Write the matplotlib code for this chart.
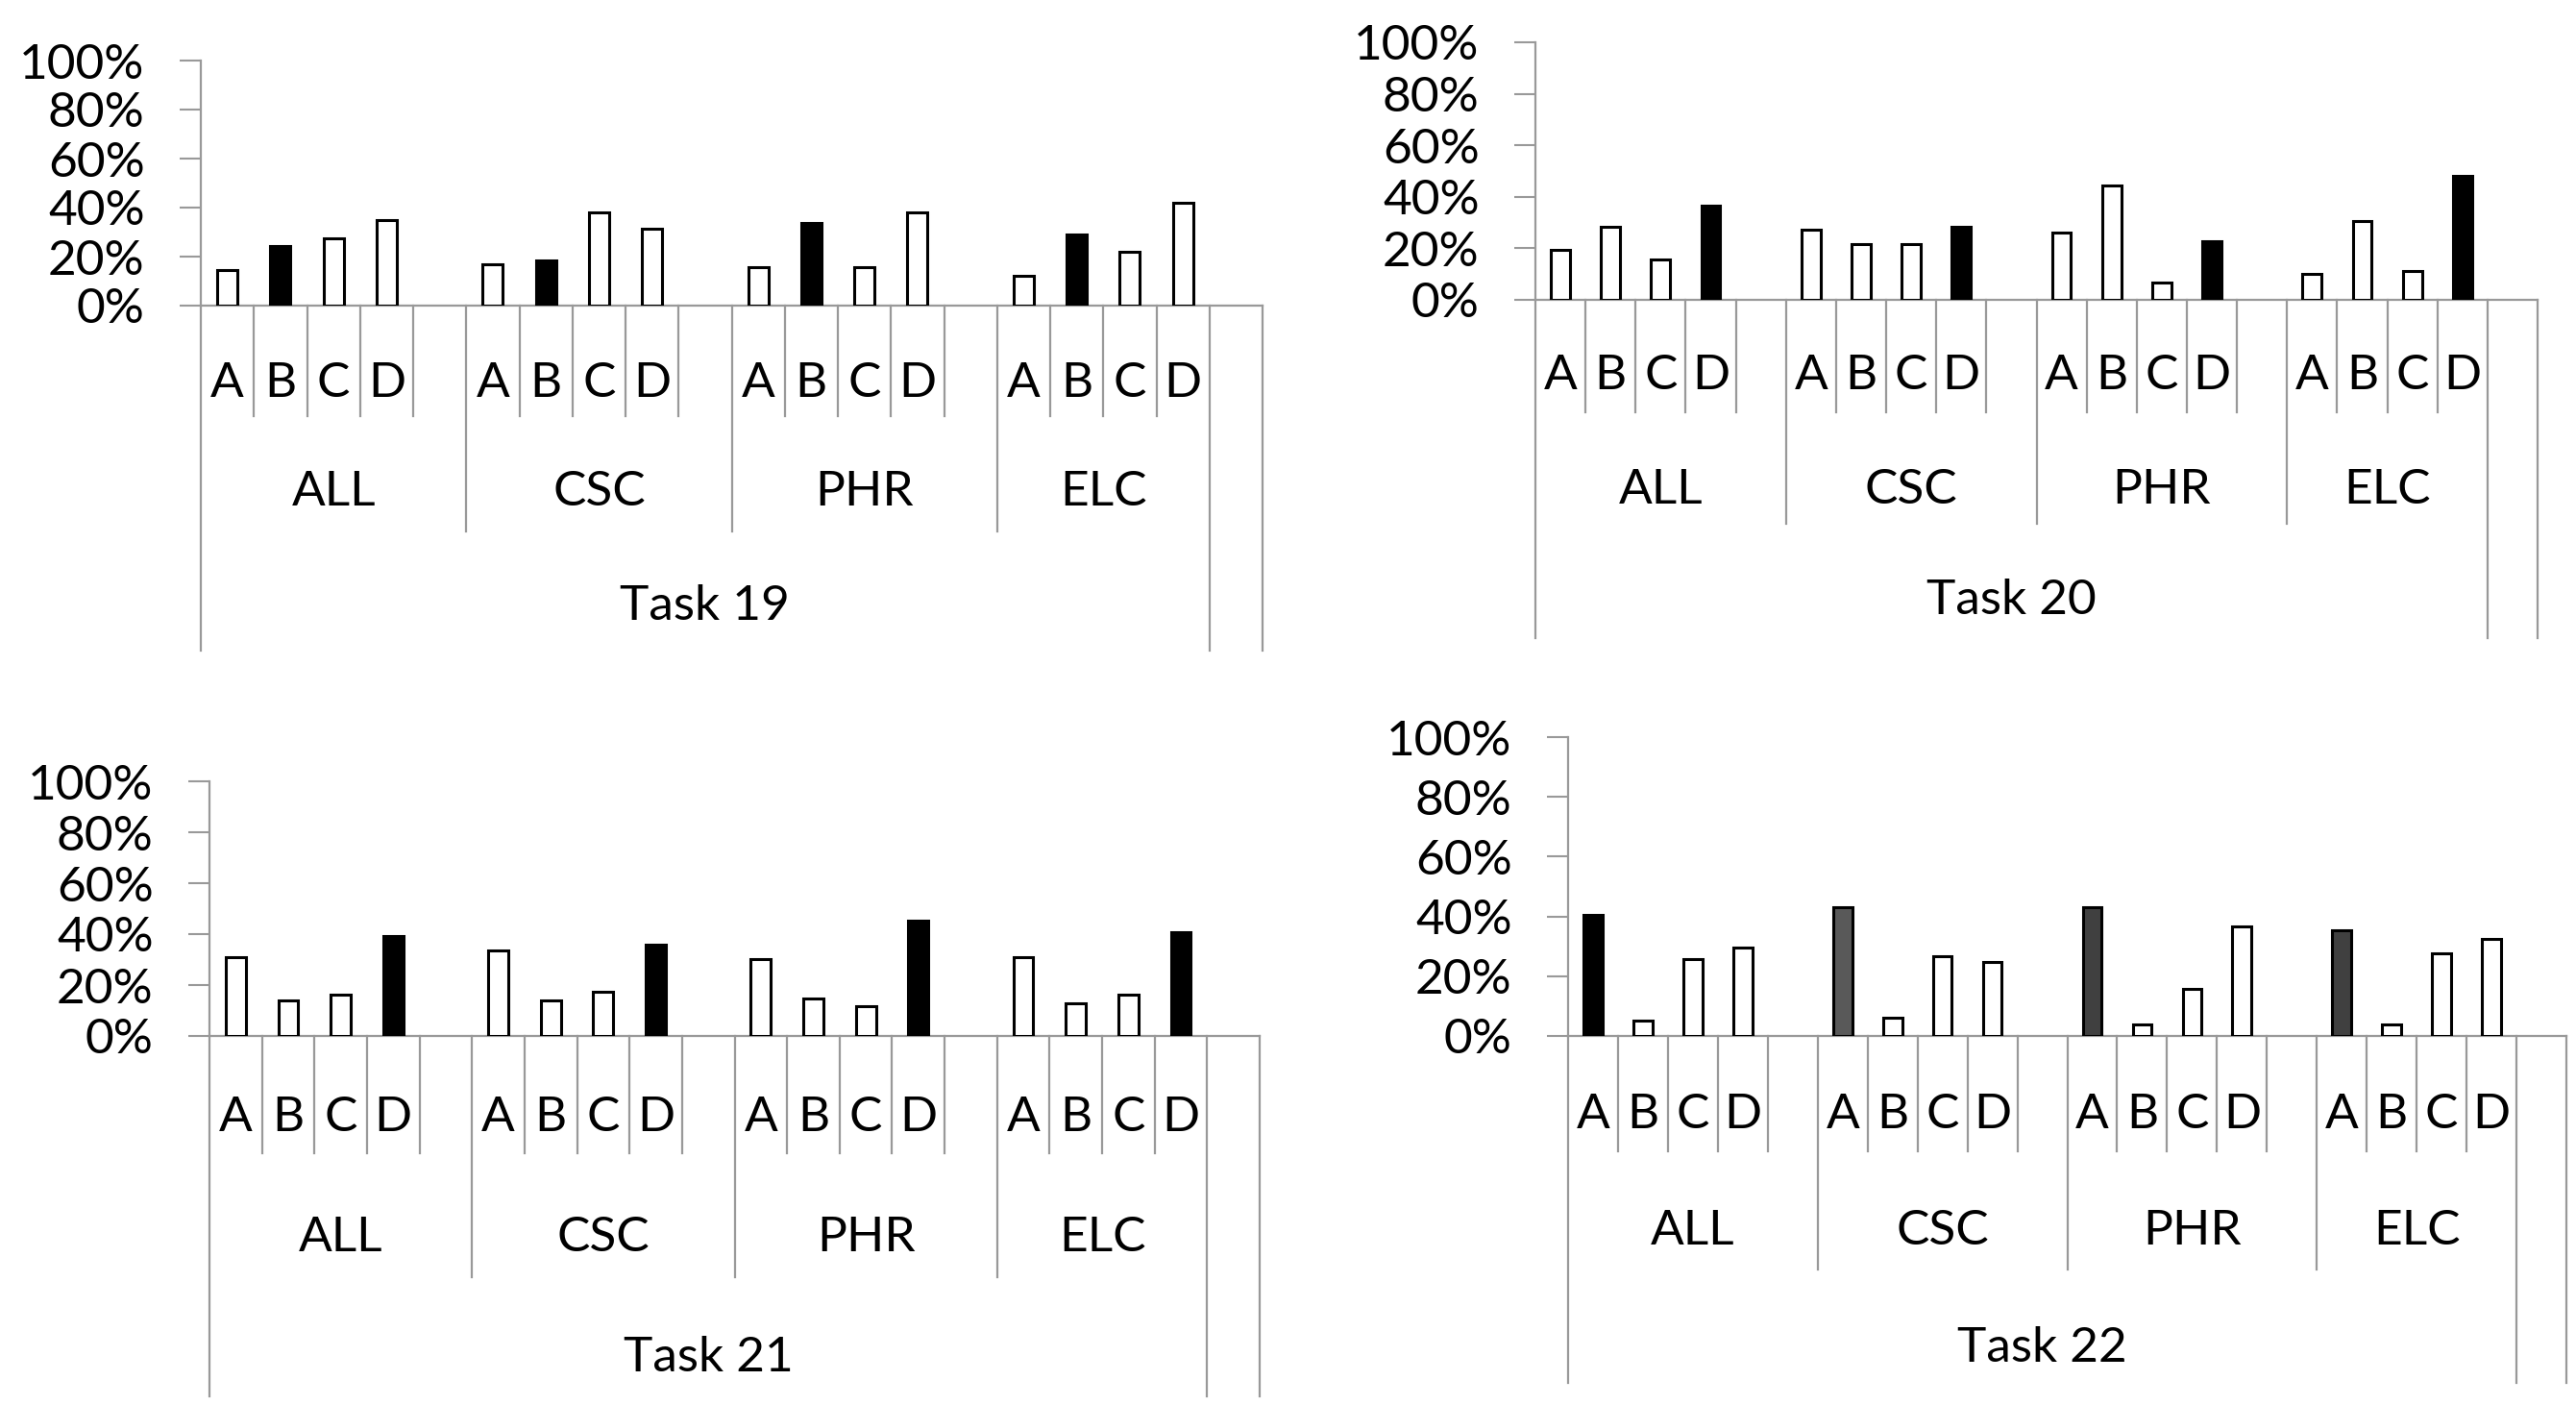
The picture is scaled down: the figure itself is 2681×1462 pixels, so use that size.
import matplotlib
matplotlib.use("Agg")
import matplotlib.pyplot as plt
from matplotlib.ticker import FuncFormatter

plt.rcParams['font.family'] = ['Lato', 'DejaVu Sans']

# data
tasks = ["Task 19", "Task 20", "Task 21", "Task 22"]
groups = ["ALL", "CSC", "PHR", "ELC"]
options = ["A", "B", "C", "D"]
yticks = [0, 0.2, 0.4, 0.6, 0.8, 1.0]

task19 = [[0.147, 0.242, 0.276, 0.349],
          [0.170, 0.184, 0.382, 0.313],
          [0.156, 0.338, 0.156, 0.382],
          [0.122, 0.290, 0.218, 0.420]]
task20 = [[0.193, 0.284, 0.157, 0.365],
          [0.274, 0.215, 0.215, 0.285],
          [0.260, 0.443, 0.066, 0.228],
          [0.101, 0.306, 0.113, 0.480]]
task21 = [[0.310, 0.141, 0.164, 0.393],
          [0.335, 0.141, 0.174, 0.359],
          [0.301, 0.149, 0.117, 0.452],
          [0.310, 0.128, 0.164, 0.406]]
task22 = [[0.405, 0.050, 0.256, 0.296],
          [0.432, 0.061, 0.266, 0.246],
          [0.432, 0.039, 0.159, 0.366],
          [0.355, 0.039, 0.278, 0.326]]
all_values = [task19, task20, task21, task22]

# correct answer per task (index into options)
correct = [1, 3, 3, 0]

# styling / layout (pixel coords in a 2681x1462 canvas)
W, H = 2681, 1462
# left, right, top(100%), base(0%), level1 bottom, level2 bottom, level3 bottom, letter y, group y, task y
layout = [
    (209, 1314, 63, 318, 433, 553, 677, 399, 512, 631),
    (1598, 2641, 44, 312, 429, 545, 664, 391, 510, 625),
    (218, 1311, 813, 1078, 1200, 1329, 1453, 1163, 1288, 1413),
    (1632, 2671, 767, 1078, 1198, 1321, 1439, 1160, 1281, 1403),
]
hi_colors = [
    ["black"] * 4,
    ["black"] * 4,
    ["black"] * 4,
    ["black", "#595959", "#404040", "#404040"],
]
grid_col = "#999999"
fs = 37

fig = plt.figure(figsize=(W / 100, H / 100), dpi=100)

for t in range(4):
    left, right, top, base, l1, l2, l3, ly, gy, ty = layout[t]
    ax = fig.add_axes([left / W, 1 - base / H, (right - left) / W, (base - top) / H])
    h = base - top

    def frac(y):
        return -(y - base) / h

    vals = all_values[t]
    for g in range(4):
        for j in range(4):
            x = g * 5 + j + 0.5
            fc = hi_colors[t][g] if j == correct[t] else "white"
            ax.bar(x, vals[g][j], width=0.38, color=fc, edgecolor="black",
                   linewidth=2.2, zorder=3)

    ax.set_xlim(0, 20)
    ax.set_ylim(0, 1)
    ax.set_yticks(yticks)
    ax.yaxis.set_major_formatter(FuncFormatter(lambda v, p: "{:.0%}".format(v)))
    ax.tick_params(axis="y", length=16, width=1.5, color=grid_col, pad=26,
                   labelsize=fs, direction="out")
    ax.set_xticks([])
    for s in ["top", "right"]:
        ax.spines[s].set_visible(False)
    for s in ["left", "bottom"]:
        ax.spines[s].set_color(grid_col)
        ax.spines[s].set_linewidth(1.6)

    tr = ax.get_xaxis_transform()
    for k in range(21):
        if k in (0, 19, 20):
            yb = frac(l3)
        elif k in (5, 10, 15):
            yb = frac(l2)
        else:
            yb = frac(l1)
        ax.plot([k, k], [0, yb], color=grid_col, lw=1.6, transform=tr, clip_on=False)

    for g in range(4):
        for j in range(4):
            ax.text(g * 5 + j + 0.5, frac(ly), options[j], transform=tr,
                    ha="center", va="center", fontsize=fs)
        gend = g * 5 + 5 if g < 3 else 19
        ax.text((g * 5 + gend) / 2, frac(gy), groups[g], transform=tr,
                ha="center", va="center", fontsize=fs)
    ax.text(9.5, frac(ty), tasks[t], transform=tr, ha="center", va="center", fontsize=fs)

fig.savefig("out.png", dpi=100)
